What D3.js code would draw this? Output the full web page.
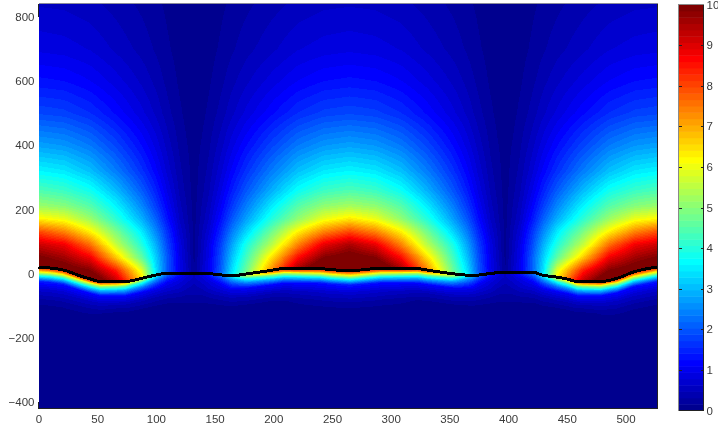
<!DOCTYPE html>
<html>
<head>
<meta charset="utf-8">
<script src="https://d3js.org/d3.v7.min.js"></script>
<style>
  body { margin: 0; background: #fff; }
  #chart { position: relative; width: 718px; height: 431px; overflow: hidden; }
  #chart canvas, #chart svg { position: absolute; left: 0; top: 0; }
  text { font-family: "Liberation Sans", Arial, sans-serif; font-size: 11.5px; fill: #3a3a3a; }
</style>
</head>
<body>
<div id="chart"></div>
<script>
const xTicks = [0, 50, 100, 150, 200, 250, 300, 350, 400, 450, 500];
const yTicks = [-400, -200, 0, 200, 400, 600, 800];
const barTicks = [0, 1, 2, 3, 4, 5, 6, 7, 8, 9, 10];

// black line
const surfaceX = [0, 10, 21, 36, 44, 53, 74, 90, 100, 110, 125, 141, 152, 164, 180, 195, 209, 240, 249, 266, 291, 323, 334, 351, 370, 385, 393, 422, 429, 439, 450, 459, 479, 493, 507, 528];
const surfaceY = [20, 17, 11, -8, -17, -25, -25, -13, -5, 1, 1, 1, -3, -7, 0, 8, 15, 15, 12, 9, 16, 15, 9, 0, -6, 0, 3, 3, -5, -10, -17, -25, -25, -15, 5, 21];

// field repeats every 265 in x, so it is tabulated by distance from the nearest lobe centre
const lobePeriod = 265;
const lobeOffsets = [0, 22, 44, 66, 88, 100, 110, 120, 126, 132.5];

// above the line, rows by absolute y
const aboveHeights = [-30, 10, 50, 90, 130, 170, 210, 260, 320, 400, 500, 600, 700, 844];
const centerField = [
  [14, 13.2, 11.5, 8.9, 5.6, 4, 2.4, 1.2, 0.7, 0.2],
  [11.2, 10.9, 9.7, 7.4, 4.7, 3.4, 2, 1, 0.6, 0.15],
  [10.2, 9.9, 8.6, 6.5, 4.3, 3.1, 1.9, 0.95, 0.55, 0.12],
  [9.5, 8.9, 7.4, 5.5, 3.9, 2.8, 1.75, 0.9, 0.5, 0.1],
  [8, 7.4, 6.3, 4.8, 3.3, 2.4, 1.5, 0.75, 0.45, 0.1],
  [6.4, 6, 5.1, 4, 2.75, 2, 1.25, 0.62, 0.36, 0.1],
  [5.3, 5.09, 4.5, 3.5, 2.39, 1.7, 1.06, 0.53, 0.32, 0.09],
  [4.4, 4.22, 3.74, 2.9, 1.98, 1.41, 0.88, 0.44, 0.26, 0.08],
  [3.6, 3.46, 3.06, 2.38, 1.62, 1.15, 0.72, 0.36, 0.22, 0.08],
  [2.75, 2.64, 2.34, 1.82, 1.24, 0.88, 0.55, 0.28, 0.17, 0.08],
  [1.85, 1.78, 1.57, 1.22, 0.83, 0.59, 0.37, 0.19, 0.11, 0.07],
  [1.3, 1.25, 1.1, 0.86, 0.59, 0.42, 0.26, 0.13, 0.08, 0.06],
  [0.9, 0.86, 0.77, 0.59, 0.41, 0.29, 0.18, 0.09, 0.06, 0.05],
  [0.6, 0.58, 0.51, 0.4, 0.27, 0.19, 0.12, 0.06, 0.05, 0.05]
];
const sideField = [
  [14, 13, 11, 9.5, 6.8, 3.6, 2.2, 1.2, 0.7, 0.2],
  [10.6, 10.3, 9.9, 8.4, 5.9, 3.4, 2, 1, 0.6, 0.15],
  [10, 9.6, 8.8, 6.7, 4.6, 3.2, 2, 0.95, 0.55, 0.12],
  [9.2, 8.8, 7.6, 5.6, 4, 2.9, 1.8, 0.9, 0.5, 0.1],
  [8, 7.4, 6.3, 4.9, 3.5, 2.5, 1.6, 0.75, 0.45, 0.1],
  [6.3, 6, 5.2, 4.1, 2.9, 2.1, 1.3, 0.62, 0.36, 0.1],
  [5.2, 5, 4.5, 3.6, 2.5, 1.75, 1.1, 0.53, 0.32, 0.09],
  [4.4, 4.2, 3.8, 3, 2.05, 1.45, 0.9, 0.44, 0.26, 0.08],
  [3.6, 3.46, 3.06, 2.38, 1.62, 1.15, 0.72, 0.36, 0.22, 0.08],
  [2.75, 2.64, 2.34, 1.82, 1.24, 0.88, 0.55, 0.28, 0.17, 0.08],
  [1.85, 1.78, 1.57, 1.22, 0.83, 0.59, 0.37, 0.19, 0.11, 0.07],
  [1.3, 1.25, 1.1, 0.86, 0.59, 0.42, 0.26, 0.13, 0.08, 0.06],
  [0.9, 0.86, 0.77, 0.59, 0.41, 0.29, 0.18, 0.09, 0.06, 0.05],
  [0.6, 0.58, 0.51, 0.4, 0.27, 0.19, 0.12, 0.06, 0.05, 0.05]
];

// below the line, rows by depth under it
const belowDepths = [0, 8, 15, 28, 45, 70, 100, 130, 180];
const belowField = [
  [8.5, 8.5, 8.5, 8, 6, 3.6, 2.2, 1.3, 0.9, 0.6],
  [7.5, 7.5, 7.5, 7, 5, 3.1, 1.9, 1.2, 0.85, 0.6],
  [6.2, 6, 5.5, 5, 3.8, 2.5, 1.6, 1, 0.75, 0.6],
  [3.7, 3.5, 3.2, 3, 2.4, 1.7, 1.1, 0.8, 0.65, 0.5],
  [1.4, 1.3, 1.2, 1.2, 1.1, 0.95, 0.8, 0.65, 0.5, 0.4],
  [0.7, 0.7, 0.6, 0.5, 0.5, 0.45, 0.4, 0.35, 0.3, 0.3],
  [0.3, 0.3, 0.2, 0.1, 0.1, 0.1, 0.1, 0.1, 0.1, 0.1],
  [0.05, 0.05, 0.05, 0.05, 0.05, 0.05, 0.05, 0.05, 0.05, 0.05],
  [0, 0, 0, 0, 0, 0, 0, 0, 0, 0]
];

const width = 718;
const height = 431;
const plot = { left: 38.5, right: 657.5, top: 3.5, bottom: 408.5 };
const bar = { left: 678.5, right: 703.5, top: 4.5, bottom: 410.5 };

const x = d3.scaleLinear().domain([0, 500]).range([38.5, 625.5]);
const y = d3.scaleLinear().domain([0, 800]).range([273.5, 17]);
const surface = d3.scaleLinear().domain(surfaceX).range(surfaceY);

// jet, 64 steps
const jetStops = d3.scaleLinear()
  .domain([0, 7 / 63, 23 / 63, 39 / 63, 55 / 63, 1])
  .range(["rgb(0,0,143)", "rgb(0,0,255)", "rgb(0,255,255)", "rgb(255,255,0)", "rgb(255,0,0)", "rgb(128,0,0)"]);
const jet = d3.range(64).map(i => d3.rgb(jetStops(i / 63)));
const color = d3.scaleQuantize().domain([0, 10]).range(jet);

function lookup(rows, cols, table, r, c) {
  const ri = Math.max(1, Math.min(rows.length - 1, d3.bisectLeft(rows, r)));
  const ci = Math.max(1, Math.min(cols.length - 1, d3.bisectLeft(cols, c)));
  const rt = Math.max(0, Math.min(1, (r - rows[ri - 1]) / (rows[ri] - rows[ri - 1])));
  const ct = (c - cols[ci - 1]) / (cols[ci] - cols[ci - 1]);
  const a = table[ri - 1][ci - 1] * (1 - ct) + table[ri - 1][ci] * ct;
  const b = table[ri][ci - 1] * (1 - ct) + table[ri][ci] * ct;
  return a * (1 - rt) + b * rt;
}

function fieldAt(dx, dy) {
  const m = ((dx % lobePeriod) + lobePeriod) % lobePeriod;
  const off = Math.min(m, lobePeriod - m);
  const s = surface(dx);
  if (dy < s) return lookup(belowDepths, lobeOffsets, belowField, s - dy, off);
  const table = Math.abs(dx - lobePeriod) < lobePeriod / 2 ? centerField : sideField;
  return lookup(aboveHeights, lobeOffsets, table, dy, off);
}

const chart = d3.select("#chart");

const canvas = chart.append("canvas").attr("width", width).attr("height", height);
const ctx = canvas.node().getContext("2d");
const image = ctx.createImageData(width, height);
for (let py = Math.ceil(plot.top); py < plot.bottom; py++) {
  for (let px = Math.ceil(plot.left); px < plot.right; px++) {
    const c = color(Math.min(10, fieldAt(x.invert(px + 0.5), y.invert(py + 0.5))));
    const k = (py * width + px) * 4;
    image.data[k] = c.r;
    image.data[k + 1] = c.g;
    image.data[k + 2] = c.b;
    image.data[k + 3] = 255;
  }
}
ctx.putImageData(image, 0, 0);

const svg = chart.append("svg").attr("width", width).attr("height", height);

svg.append("path")
  .datum(surfaceX)
  .attr("fill", "none")
  .attr("stroke", "#000")
  .attr("stroke-width", 3)
  .attr("shape-rendering", "crispEdges")
  .attr("d", d3.line().x(d => x(d)).y(d => y(surface(d))).curve(d3.curveMonotoneX));

// plot frame
const frame = svg.append("g").attr("fill", "none").attr("shape-rendering", "crispEdges");
frame.append("path").attr("stroke", "#8a8a9a").attr("d", `M${plot.left},${plot.top}H${plot.right}`);
frame.append("path").attr("stroke", "#222").attr("d", `M${plot.right},${plot.top}V${plot.bottom}H${plot.left}`);
frame.append("path").attr("stroke", "#222").attr("d", `M${plot.left},${plot.top}V${y(800)}M${plot.left},${y(-400)}V${plot.bottom}`);

const xAxis = svg.append("g")
  .attr("transform", `translate(0,${plot.bottom})`)
  .call(d3.axisBottom(x).tickValues(xTicks).tickSize(0).tickPadding(6).tickFormat(d3.format("d")));
xAxis.select(".domain").remove();

const yAxis = svg.append("g")
  .attr("transform", `translate(${plot.left},0)`)
  .call(d3.axisLeft(y).tickValues(yTicks).tickSize(0).tickPadding(4).tickFormat(d => d < 0 ? "\u2212" + (-d) : d));
yAxis.select(".domain").remove();

// colour bar
const barY = d3.scaleLinear().domain([0, 10]).range([bar.bottom, bar.top]);
svg.append("g").selectAll("rect")
  .data(jet)
  .join("rect")
  .attr("x", bar.left)
  .attr("width", bar.right - bar.left)
  .attr("y", (d, i) => barY((i + 1) * 10 / 64))
  .attr("height", (bar.bottom - bar.top) / 64 + 0.5)
  .attr("fill", d => d.formatRgb());

const barFrame = svg.append("g").attr("fill", "none").attr("shape-rendering", "crispEdges");
barFrame.append("path").attr("stroke", "#8a8a8a").attr("d", `M${bar.right},${bar.top}H${bar.left}V${bar.bottom}`);
barFrame.append("path").attr("stroke", "#222").attr("d", `M${bar.left},${bar.bottom}H${bar.right}V${bar.top}`);
barFrame.selectAll(".mark")
  .data(barTicks.slice(1, -1))
  .join("path")
  .attr("class", "mark")
  .attr("stroke", "#222")
  .attr("d", d => `M${bar.left},${Math.round(barY(d)) + 0.5}h3M${bar.right},${Math.round(barY(d)) + 0.5}h-3`);

const barAxis = svg.append("g")
  .attr("transform", `translate(${bar.right},0)`)
  .call(d3.axisRight(barY).tickValues(barTicks).tickSize(0).tickPadding(3).tickFormat(d3.format("d")));
barAxis.select(".domain").remove();
svg.selectAll("text").attr("fill", null);
</script>
</body>
</html>
